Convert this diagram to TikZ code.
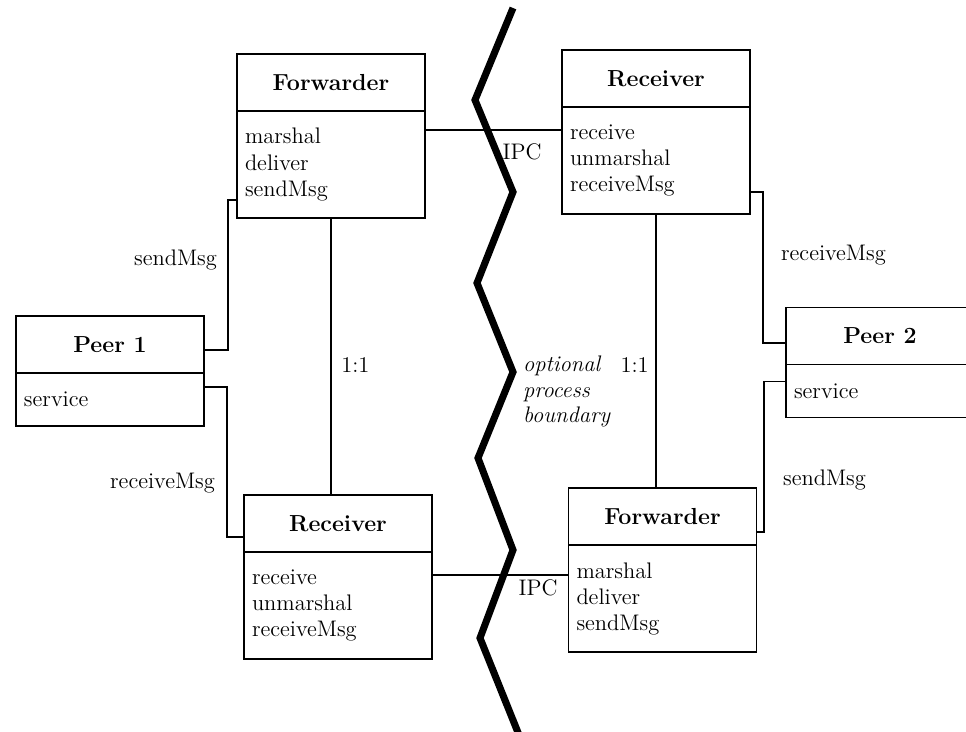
\documentclass[tikz,border=0pt]{standalone}
\usepackage{tikz}
\usetikzlibrary{positioning}
\tikzset{
  clshead/.style  = {draw, line width=1pt, minimum width=37.6mm, minimum height=11.4mm,
                     inner sep=0pt, outer sep=0pt,
                     font=\fontsize{13.2}{15}\selectfont\bfseries},
  clsbody/.style  = {draw, line width=1pt, minimum width=37.6mm, minimum height=21.4mm,
                     text width=34.4mm, inner xsep=1.6mm, outer sep=0pt, align=left,
                     font=\fontsize{12.8}{14.8}\selectfont},
  peerbody/.style = {clsbody, minimum height=10.6mm},
  linkline/.style = {semithick},
  linklbl/.style  = {font=\fontsize{12.8}{14.8}\selectfont, inner sep=1pt},
  procline/.style = {line width=4pt, line join=miter}
}
\begin{document}
\begin{tikzpicture}[x=0.2mm, y=-0.2mm]
  \clip (0,0) rectangle (966,731);

  \node[clshead]                      (fwdAh)  at (331,82.5)  {Forwarder};
  \node[clsbody, below=0pt of fwdAh]  (fwdAb)  {marshal\\deliver\\sendMsg};
  \node[clshead]                      (peerAh) at (110,344.5) {Peer 1};
  \node[peerbody, below=0pt of peerAh] (peerAb) {service};
  \node[clshead]                      (rcvAh)  at (656,78.5)  {Receiver};
  \node[clsbody, below=0pt of rcvAh]  (rcvAb)  {receive\\unmarshal\\receiveMsg};

  \node[clshead]                      (rcvBh)  at (338,523.5) {Receiver};
  \node[clsbody, below=0pt of rcvBh]  (rcvBb)  {receive\\unmarshal\\receiveMsg};
  \node[clshead]                      (fwdBh)  at (662.5,516.5) {Forwarder};
  \node[clsbody, below=0pt of fwdBh]  (fwdBb)  {marshal\\deliver\\sendMsg};
  \node[clshead]                      (peerBh) at (880,336)   {Peer 2};
  \node[peerbody, below=0pt of peerBh] (peerBb) {service};

  \draw[linkline] ([yshift=3.6mm]fwdAb.south west) -- ++(-1.8mm,0)
        |- ([yshift=-1.1mm]peerAh.east);
  \draw[linkline] ([yshift=-2.8mm]peerAb.north east) -- ++(4.6mm,0)
        |- ([yshift=-2.7mm]rcvBh.west);
  \draw[linkline] (fwdAb.south) -- (fwdAb.south |- rcvBh.north)
        node[linklbl, pos=.53, right=1.6mm] {1:1};

  \draw[linkline] ([yshift=4.4mm]rcvAb.south east) -- ++(2.6mm,0)
        |- ([yshift=-1.4mm]peerBh.west);
  \draw[linkline] ([yshift=-3.4mm]peerBb.north west) -- ++(-4.4mm,0)
        |- ([yshift=-3.1mm]fwdBh.east);
  \draw[linkline] (rcvAb.south) -- (rcvAb.south |- fwdBh.north)
        node[linklbl, pos=.55, left=1mm] {1:1};

  \coordinate (ipcA) at ([yshift=-3.8mm]fwdAb.north east);
  \draw[linkline] (ipcA) -- (ipcA -| rcvAb.west);
  \coordinate (ipcB) at ([yshift=-4.6mm]rcvBb.north east);
  \draw[linkline] (ipcB) -- (ipcB -| fwdBb.west);

  \node[linklbl]                 (ipcAl)  at (522,152) {IPC};
  \node[linklbl]                 (ipcBl)  at (538,588) {IPC};
  \node[linklbl, anchor=east]    (sendAl) at (219,260) {sendMsg};
  \node[linklbl, anchor=east]    (recvAl) at (217,483) {receiveMsg};
  \node[linklbl, anchor=west]    (recvBl) at (779,255) {receiveMsg};
  \node[linklbl, anchor=west]    (sendBl) at (781,480) {sendMsg};
  \node[linklbl, anchor=north west, align=left,
        font=\fontsize{12.8}{14.5}\selectfont\itshape] (bndl) at (521,354)
        {optional\\process\\boundary};

  \draw[procline] (513,8) -- (475,100) -- (513,192) -- (477,283) -- (513,372)
        -- (478,458) -- (513,550) -- (480,638) -- (521,740);
\end{tikzpicture}
\end{document}
